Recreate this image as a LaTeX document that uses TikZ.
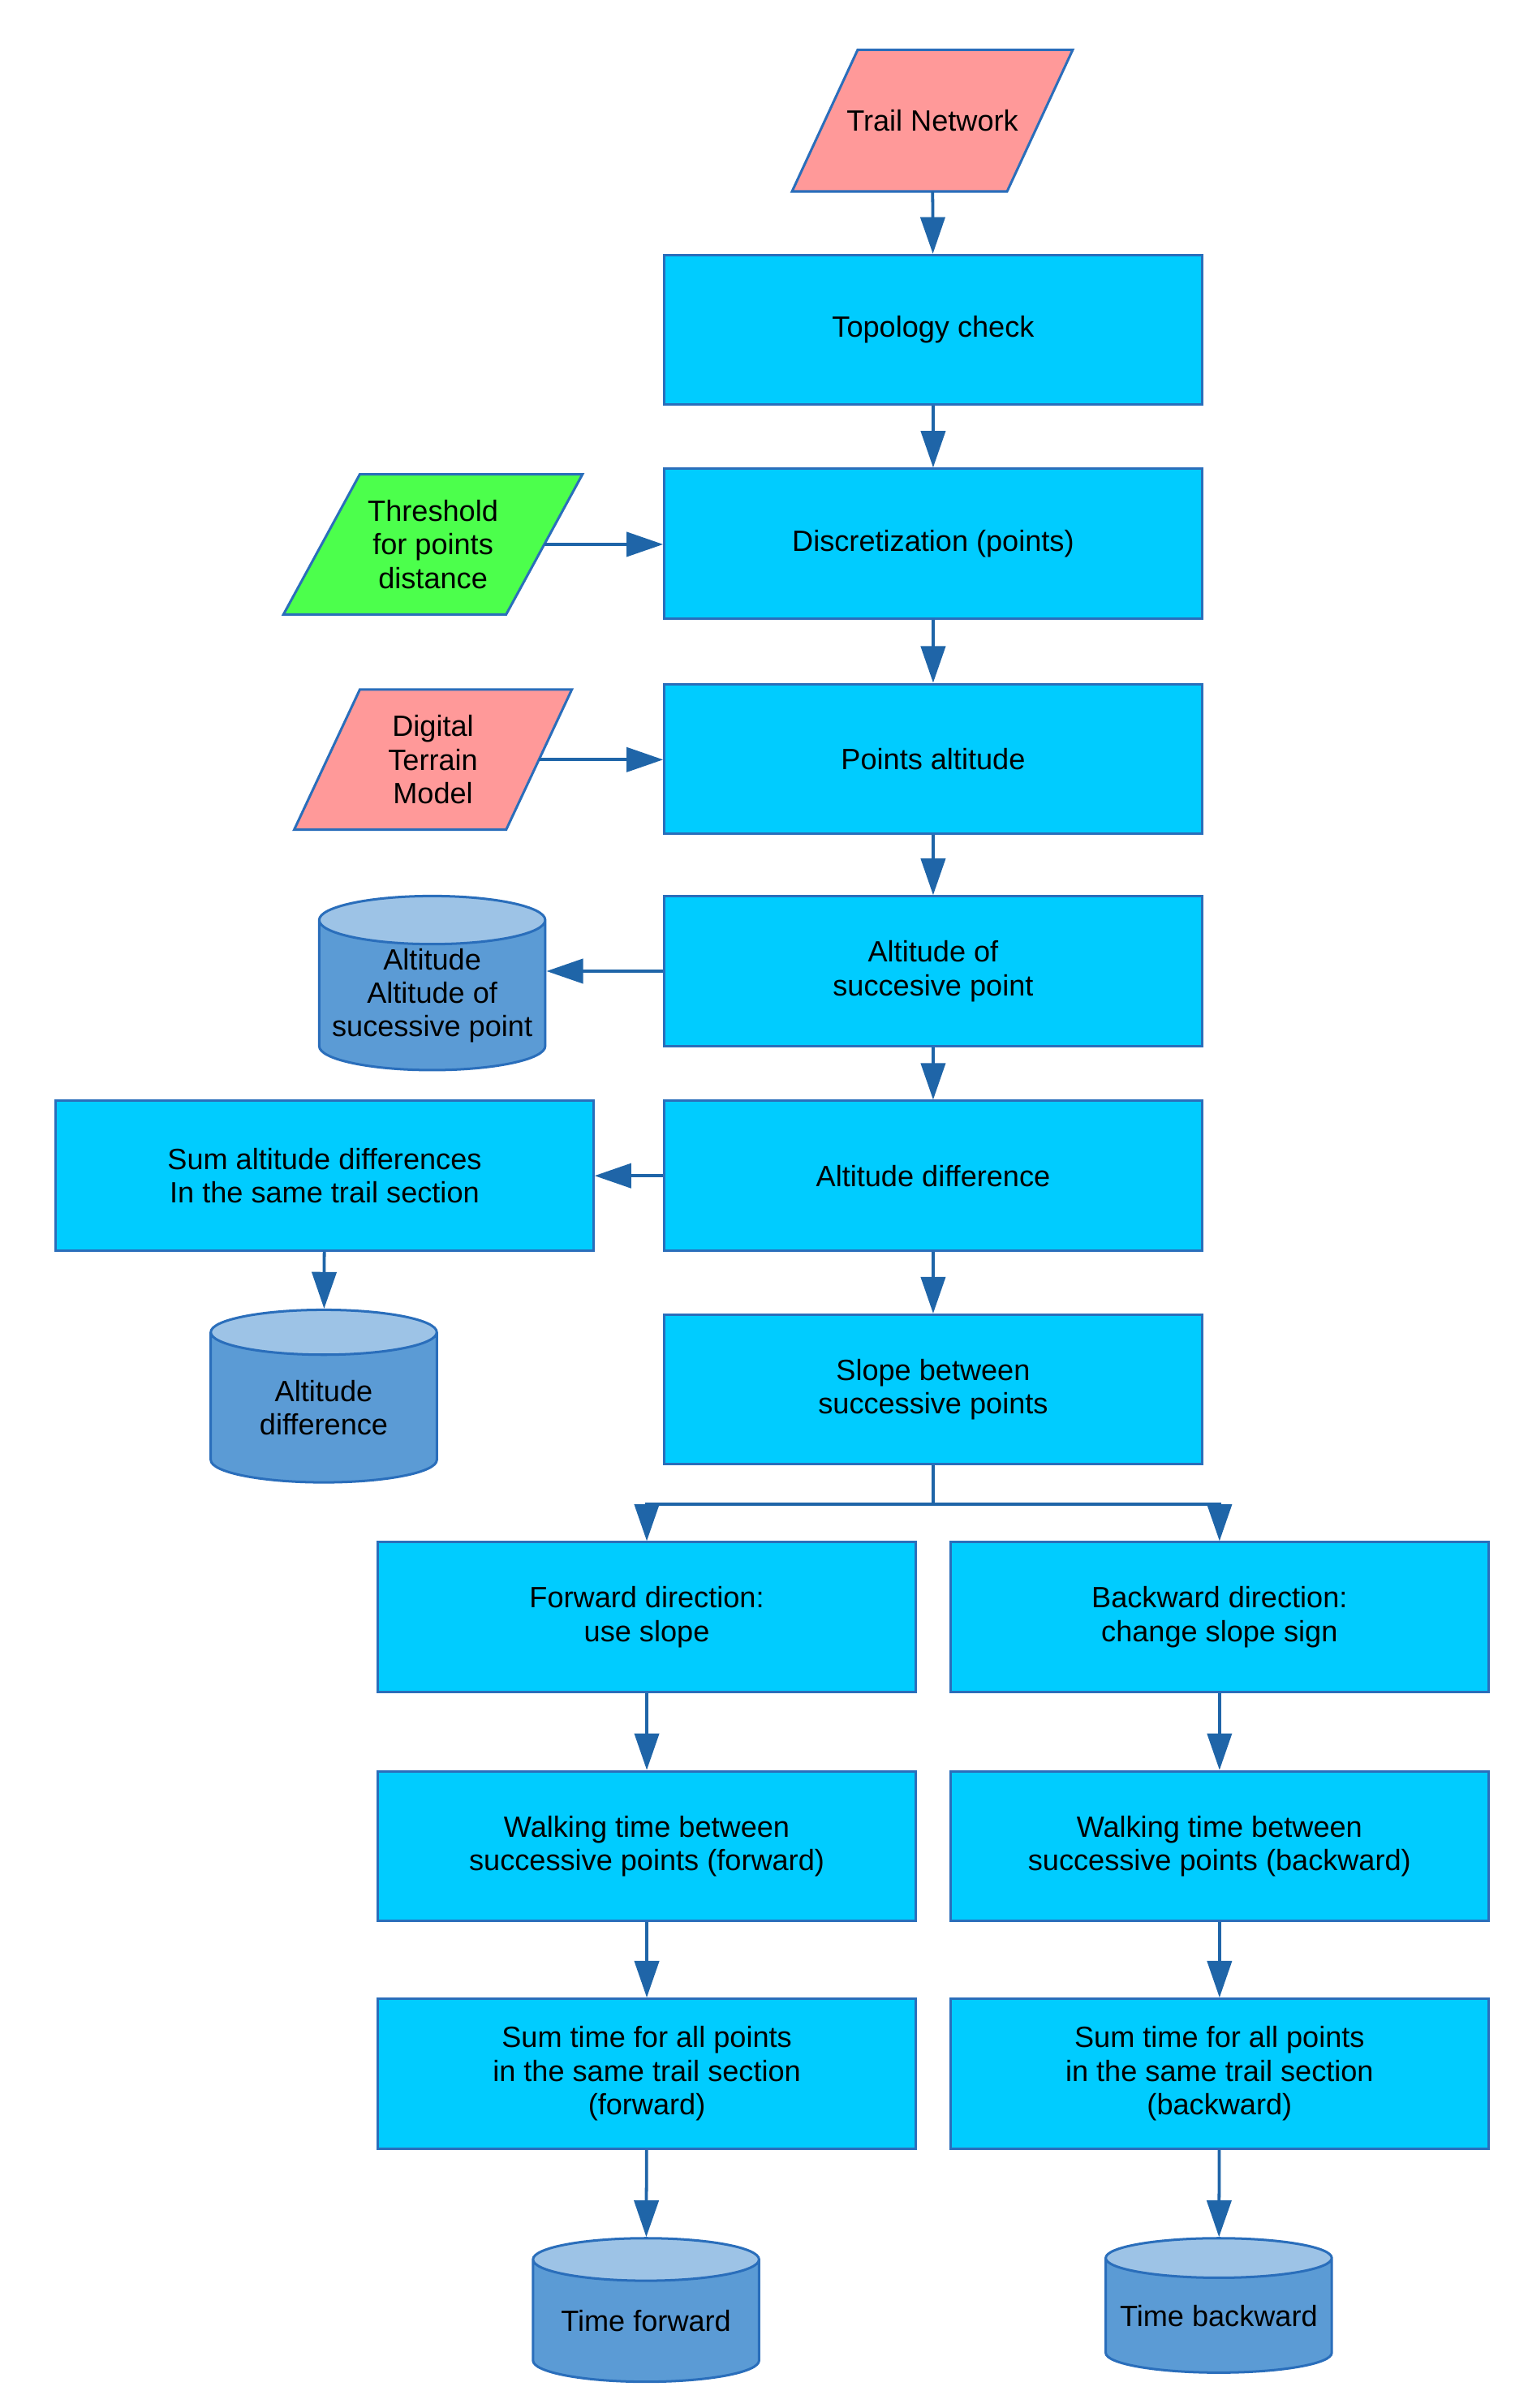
\documentclass[tikz,border=0pt]{standalone}
\usepackage{fontspec}
\setmainfont{Liberation Sans}
\usetikzlibrary{arrows.meta,shapes.geometric,backgrounds}
\definecolor{boxcyan}{HTML}{00CCFF}
\definecolor{boxline}{HTML}{2A6EBB}
\definecolor{arrowblue}{HTML}{1F65A8}
\definecolor{inpink}{HTML}{FF9999}
\definecolor{ingreen}{HTML}{4CFF4C}
\definecolor{dbbody}{HTML}{5B9BD5}
\definecolor{dbtop}{HTML}{9DC3E6}

\begin{document}
\begin{tikzpicture}[x=0.5pt,y=-0.5pt,
	>={Triangle[length=12pt,width=8pt]},
	every node/.style={font=\fontsize{9.6}{11}\selectfont,align=center},
	process/.style={rectangle,draw=boxline,line width=0.8pt,fill=boxcyan,
		minimum width=176pt,minimum height=49pt,inner sep=0pt},
	inputdata/.style={rectangle,minimum width=70pt,minimum height=46pt,inner sep=0pt},
	database/.style={cylinder,shape border rotate=90,aspect=0.35,draw=boxline,
		line width=0.8pt,cylinder uses custom fill,cylinder body fill=dbbody,
		cylinder end fill=dbtop,minimum width=74pt,minimum height=57pt,inner sep=0pt,anchor=north},
	flow/.style={->,draw=arrowblue,line width=1pt}]
	
	% main column
	\node[inputdata] (trail) at (610.5,79) {Trail Network};
	\node[process] (topo) at (611,216) {Topology check};
	\node[process] (disc) at (611,356) {Discretization (points)};
	\node[process] (pts) at (611,497) {Points altitude};
	\node[process] (altsucc) at (611,636) {Altitude of\\succesive point};
	\node[process] (altdiff) at (611,770) {Altitude difference};
	\node[process] (slope) at (611,910) {Slope between\\successive points};
	
	% inputs and outputs on the left
	\node[inputdata,minimum width=72.5pt,minimum height=45.5pt] (thresh) at (283.5,356.5) {Threshold\\for points\\distance};
	\node[inputdata,minimum width=69pt,minimum height=45.5pt] (dtm) at (283.5,497.5) {Digital\\Terrain\\Model};
	\node[database,aspect=0.24] (altdb) at (283,586) {Altitude\\Altitude of\\sucessive point};
	\node[process] (sumdiff) at (212.5,770) {Sum altitude differences\\In the same trail section};
	\node[database,minimum height=56.5pt] (diffdb) at (212,857) {Altitude\\difference};
	
	% forward and backward branches
	\node[process] (fwd) at (423.5,1059) {Forward direction:\\use slope};
	\node[process] (bwd) at (798.5,1059) {Backward direction:\\change slope sign};
	\node[process] (walkf) at (423.5,1209) {Walking time between\\successive points (forward)};
	\node[process] (walkb) at (798.5,1209) {Walking time between\\successive points (backward)};
	\node[process] (sumf) at (423.5,1358) {Sum time for all points\\in the same trail section\\(forward)};
	\node[process] (sumb) at (798.5,1358) {Sum time for all points\\in the same trail section\\(backward)};
	\node[database,aspect=0.25,minimum height=47pt] (timef) at (423,1465) {Time forward};
	\node[database,aspect=0.2,minimum height=44pt] (timeb) at (798,1465) {Time backward};
	
	% parallelograms behind the input nodes
	\begin{scope}[on background layer]
		\fill[white] (0,0) rectangle (1000,1577);
		\foreach \n/\c/\s in {trail/inpink/10.75pt,thresh/ingreen/12.5pt,dtm/inpink/10.75pt}
			\draw[boxline,line width=0.8pt,fill=\c] ([xshift=\s]\n.north west) -- ([xshift=\s]\n.north east)
				-- ([xshift=-\s]\n.south east) -- ([xshift=-\s]\n.south west) -- cycle;
	\end{scope}
	
	\coordinate (split) at (611,985);
	
	\draw[flow] (trail) -- (topo);
	\draw[flow] (topo) -- (disc);
	\draw[flow] (disc) -- (pts);
	\draw[flow] (pts) -- (altsucc);
	\draw[flow] (altsucc) -- (altdiff);
	\draw[flow] (altdiff) -- (slope);
	\draw[flow] (thresh.east) -- (thresh.east -| disc.west);
	\draw[flow] (dtm.east) -- (dtm.east -| pts.west);
	\draw[flow] (altsucc.west) -- (altsucc.west -| altdb.east);
	\draw[flow] (altdiff.west) -- (sumdiff.east);
	\draw[flow] (sumdiff) -- (diffdb);
	\draw[arrowblue,line width=1pt] (slope.south) -- (split);
	\draw[flow] (split) -| (fwd.north);
	\draw[flow] (split) -| (bwd.north);
	\draw[flow] (fwd) -- (walkf);
	\draw[flow] (bwd) -- (walkb);
	\draw[flow] (walkf) -- (sumf);
	\draw[flow] (walkb) -- (sumb);
	\draw[flow] (sumf) -- (timef);
	\draw[flow] (sumb) -- (timeb);
	
\end{tikzpicture}
\end{document}
